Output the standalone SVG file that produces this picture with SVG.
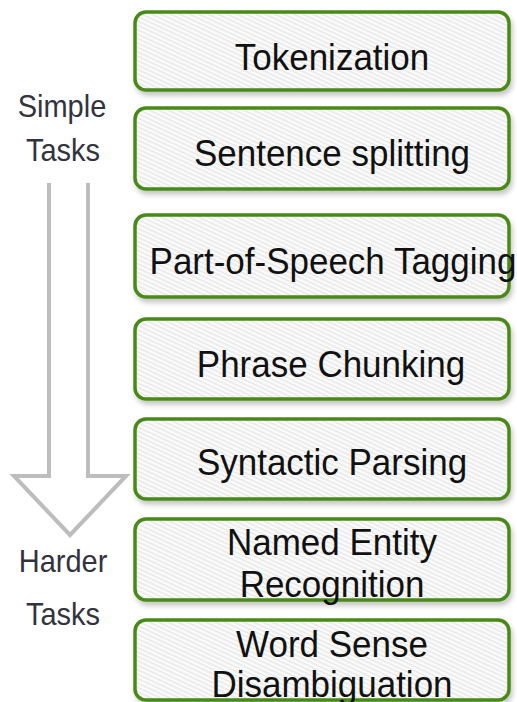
<svg xmlns="http://www.w3.org/2000/svg" width="517" height="702" viewBox="0 0 517 702">
  <defs>
    <pattern id="hatch" width="4" height="4" patternUnits="userSpaceOnUse" patternTransform="rotate(25)">
      <rect width="4" height="4" fill="#fbfbfb"/>
      <rect width="4" height="1.5" fill="#e8e8e8"/>
    </pattern>
    <filter id="shadow" x="-10%" y="-20%" width="120%" height="150%">
      <feDropShadow dx="2" dy="4" stdDeviation="2.5" flood-color="#000" flood-opacity="0.22"/>
    </filter>
  </defs>
  <style>
    .box { fill: url(#hatch); stroke: #4a8a18; stroke-width: 3.5; filter: url(#shadow); }
    .lbl { font-family: "Liberation Sans", Arial, sans-serif; font-size: 35px; fill: #111; text-anchor: middle; }
    .side { font-family: "Liberation Sans", Arial, sans-serif; font-size: 29px; fill: #333340; text-anchor: middle; }
    .arrow { fill: #fff; stroke: #bdbdbd; stroke-width: 4; stroke-linejoin: miter; }
  </style>

  <g id="connectors">
    <polyline class="arrow" points="49,183 49,476 14,476 70,535 126,476 88,476 88,183"/>
  </g>

  <g id="label-simple">
    <text class="side" transform="translate(62,117) scale(1,1.06)">Simple</text>
    <text class="side" transform="translate(63,161) scale(1,1.06)">Tasks</text>
  </g>
  <g id="label-harder">
    <text class="side" transform="translate(63,572) scale(1,1.06)">Harder</text>
    <text class="side" transform="translate(63,625) scale(1,1.06)">Tasks</text>
  </g>

  <g id="node-tokenization">
    <rect class="box" x="135" y="12" width="374" height="78" rx="11"/>
    <text class="lbl" transform="translate(332,70) scale(1,1.08)">Tokenization</text>
  </g>
  <g id="node-sentence">
    <rect class="box" x="135" y="108" width="374" height="81" rx="11"/>
    <text class="lbl" transform="translate(332,166) scale(1,1.08)">Sentence splitting</text>
  </g>
  <g id="node-pos">
    <rect class="box" x="135" y="215" width="374" height="82" rx="11"/>
    <text class="lbl" transform="translate(333,274) scale(1,1.08)">Part-of-Speech Tagging</text>
  </g>
  <g id="node-chunking">
    <rect class="box" x="135" y="319" width="374" height="80" rx="11"/>
    <text class="lbl" transform="translate(331,377) scale(1,1.08)">Phrase Chunking</text>
  </g>
  <g id="node-parsing">
    <rect class="box" x="135" y="419" width="374" height="80" rx="11"/>
    <text class="lbl" transform="translate(332,475) scale(1,1.08)">Syntactic Parsing</text>
  </g>
  <g id="node-ner">
    <rect class="box" x="135" y="519" width="374" height="81" rx="11"/>
    <text class="lbl" transform="translate(332,555) scale(1,1.08)">Named Entity</text>
    <text class="lbl" transform="translate(332,597) scale(1,1.08)">Recognition</text>
  </g>
  <g id="node-wsd">
    <rect class="box" x="135" y="620" width="374" height="80" rx="11"/>
    <text class="lbl" transform="translate(332,657) scale(1,1.08)">Word Sense</text>
    <text class="lbl" transform="translate(332,697) scale(1,1.08)">Disambiguation</text>
  </g>
</svg>
